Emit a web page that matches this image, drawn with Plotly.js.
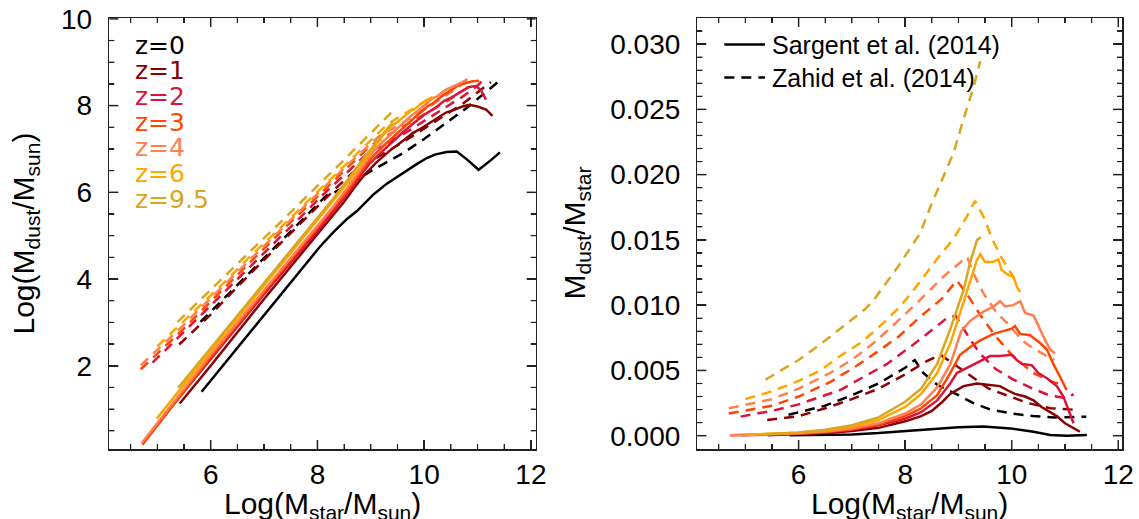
<!DOCTYPE html>
<html><head><meta charset="utf-8">
<script src="https://cdn.plot.ly/plotly-3.0.1.min.js"></script>
<style>html,body{margin:0;padding:0;background:#fff}
#wrap{position:relative;width:1139px;height:519px;overflow:hidden}
#left{position:absolute;left:0;top:0;width:555px;height:519px}
#right{position:absolute;left:555px;top:0;width:584px;height:519px}
.box{position:absolute;box-sizing:border-box;border:1.5px solid #222;pointer-events:none;top:16.5px;height:434px}
#boxL{left:107.8px;width:429.4px}
#boxR{left:695.9px;width:427.6px}</style>
</head><body><div id="wrap"><div id="left"></div><div id="right"></div><div id="boxL" class="box"></div><div id="boxR" class="box"></div></div>
<script>
// ---------- categories ----------
const redshifts = ['z=0', 'z=1', 'z=2', 'z=3', 'z=4', 'z=6', 'z=9.5'];
const zColors = ['#000000', '#8B0000', '#DC143C', '#FF4500', '#FF7F50', '#FFA500', '#DAA520'];
const modelNames = ['Sargent et al. (2014)', 'Zahid et al. (2014)'];
const axisTitles = ['Log(M<sub>star</sub>/M<sub>sun</sub>)', 'Log(M<sub>dust</sub>/M<sub>sun</sub>)', 'M<sub>dust</sub>/M<sub>star</sub>'];

// ---------- LEFT PANEL: Log(Mdust) vs Log(Mstar), Sargent (solid) ----------
const sargL_x_z0 = [5.83, 7.55, 8.05, 8.3, 8.55, 8.75, 9.05, 9.3, 9.61, 9.86, 10.05, 10.2, 10.42, 10.61, 10.8, 11.02, 11.24, 11.42];
const sargL_y_z0 = [1.40, 3.98, 4.75, 5.08, 5.38, 5.58, 5.95, 6.20, 6.46, 6.65, 6.79, 6.87, 6.93, 6.94, 6.76, 6.52, 6.73, 6.92];
const sargL_x_z1 = [5.42, 6.0, 7.0, 8.0, 8.3, 8.5, 8.7, 8.845, 9.095, 9.345, 9.53, 9.78, 9.91, 10.06, 10.25, 10.41, 10.56, 10.72, 10.845, 11.0, 11.16, 11.28];
const sargL_y_z1 = [1.13, 2.00, 3.54, 5.04, 5.48, 5.78, 6.12, 6.35, 6.68, 6.95, 7.12, 7.36, 7.45, 7.57, 7.73, 7.84, 7.90, 7.98, 8.02, 7.98, 7.91, 7.76];
const sargL_x_z2 = [4.93, 6.0, 7.0, 8.0, 8.3, 8.6, 8.845, 8.97, 9.16, 9.41, 9.595, 9.78, 10.0, 10.095, 10.19, 10.375, 10.5, 10.66, 10.845, 10.97, 11.06, 11.16];
const sargL_y_z2 = [0.55, 2.15, 3.65, 5.11, 5.56, 6.03, 6.45, 6.65, 6.88, 7.17, 7.38, 7.57, 7.79, 7.86, 7.93, 8.11, 8.18, 8.30, 8.43, 8.45, 8.36, 8.14];
const sargL_x_z3 = [4.72, 6.0, 7.0, 8.0, 8.3, 8.6, 8.845, 9.03, 9.22, 9.41, 9.66, 9.845, 10.0, 10.06, 10.16, 10.345, 10.53, 10.66, 10.78, 10.91, 11.03];
const sargL_y_z3 = [0.18, 2.20, 3.70, 5.18, 5.62, 6.09, 6.53, 6.82, 7.05, 7.27, 7.55, 7.75, 7.91, 7.98, 8.05, 8.23, 8.38, 8.48, 8.52, 8.56, 8.57];
const sargL_x_z4 = [4.71, 6.0, 7.0, 8.0, 8.3, 8.6, 8.85, 8.95, 9.05, 9.22, 9.47, 9.66, 9.78, 9.875, 10.03, 10.16, 10.25, 10.41, 10.5, 10.63, 10.72, 10.81];
const sargL_y_z4 = [0.22, 2.26, 3.74, 5.23, 5.68, 6.17, 6.59, 6.78, 6.95, 7.16, 7.45, 7.66, 7.79, 7.87, 8.03, 8.17, 8.22, 8.37, 8.42, 8.49, 8.54, 8.61];
const sargL_x_z6 = [4.99, 6.0, 7.0, 8.0, 8.3, 8.6, 8.85, 9.03, 9.22, 9.35, 9.41, 9.5, 9.63, 9.75, 9.81, 9.94, 10.03, 10.1, 10.16];
const sargL_y_z6 = [0.78, 2.34, 3.85, 5.34, 5.81, 6.28, 6.70, 7.00, 7.30, 7.48, 7.55, 7.62, 7.75, 7.88, 7.91, 8.03, 8.12, 8.16, 8.20];
const sargL_x_z95 = [5.39, 6.5, 7.5, 8.3, 8.6, 8.85, 9.1, 9.22, 9.35, 9.42];
const sargL_y_z95 = [1.49, 3.15, 4.65, 5.86, 6.34, 6.76, 7.15, 7.34, 7.53, 7.60];

// ---------- Zahid (dashed): shared Log(Mstar) grid for both panels ----------
const zahX_z0 = [5.81, 6.5, 7.0, 7.5, 8.0, 8.18, 8.34, 8.6, 9.0, 9.28, 9.6, 10.0, 10.4, 10.8, 11.4];
const zahX_z1 = [5.41, 6.0, 6.5, 7.0, 7.5, 8.0, 8.4, 8.66, 8.98, 9.3, 9.57, 9.97, 10.3, 10.73, 11.1, 11.25];
const zahX_z2 = [4.91, 5.5, 6.0, 6.78, 7.22, 7.66, 8.16, 8.53, 8.78, 8.95, 9.2, 9.4, 9.7, 10.03, 10.4, 10.7, 10.97, 11.1, 11.16];
const zahX_z3 = [4.69, 5.5, 6.0, 6.59, 7.03, 7.47, 7.88, 8.28, 8.69, 8.97, 9.2, 9.4, 9.7, 10.0, 10.4, 10.78, 10.9];
const zahX_z4 = [4.69, 5.5, 6.0, 6.59, 7.03, 7.44, 7.84, 8.28, 8.72, 9.16, 9.31, 9.47, 9.72, 9.97, 10.19, 10.44, 10.66, 10.8];
const zahX_z6 = [5.0, 5.5, 6.0, 6.41, 6.78, 7.16, 7.53, 7.91, 8.28, 8.59, 8.91, 9.16, 9.31, 9.48, 9.63, 9.8, 9.98, 10.1];
const zahX_z95 = [5.38, 6.0, 6.44, 6.91, 7.25, 7.41, 7.84, 8.28, 8.5, 8.66, 8.91, 9.10, 9.29, 9.41];

// left panel Log(Mdust), Zahid
const zahL_y_z0 = [3.01, 3.86, 4.49, 5.10, 5.72, 5.94, 6.01, 6.19, 6.49, 6.68, 6.90, 7.23, 7.58, 7.95, 8.56];
const zahL_y_z1 = [2.49, 3.18, 3.82, 4.45, 5.06, 5.67, 6.16, 6.45, 6.70, 6.94, 7.13, 7.45, 7.70, 8.05, 8.40, 8.54];
const zahL_y_z2 = [2.07, 2.78, 3.38, 4.32, 4.87, 5.40, 6.01, 6.44, 6.73, 6.91, 7.08, 7.20, 7.41, 7.66, 7.96, 8.19, 8.43, 8.58, 8.67];
const zahL_y_z3 = [1.92, 2.86, 3.48, 4.20, 4.75, 5.28, 5.76, 6.24, 6.71, 7.05, 7.23, 7.37, 7.58, 7.79, 8.08, 8.39, 8.50];
const zahL_y_z4 = [2.01, 2.95, 3.56, 4.27, 4.80, 5.30, 5.78, 6.30, 6.81, 7.30, 7.40, 7.51, 7.69, 7.89, 8.05, 8.26, 8.45, 8.56];
const zahL_y_z6 = [2.45, 3.03, 3.62, 4.11, 4.57, 5.01, 5.45, 5.91, 6.35, 6.72, 7.09, 7.39, 7.57, 7.70, 7.81, 7.94, 8.08, 8.16];
const zahL_y_z95 = [3.01, 3.76, 4.29, 4.84, 5.24, 5.43, 5.95, 6.47, 6.75, 6.95, 7.25, 7.49, 7.72, 7.87];

// right panel Mdust/Mstar, Zahid
const zahR_r_z0 = [0.0016, 0.0023, 0.0031, 0.0040, 0.0052, 0.0058, 0.0048, 0.0039, 0.0031, 0.0025, 0.0020, 0.0017, 0.0015, 0.0014, 0.00145];
const zahR_r_z1 = [0.0012, 0.0015, 0.0021, 0.0028, 0.0036, 0.0047, 0.0057, 0.0062, 0.0053, 0.0044, 0.0036, 0.0030, 0.0025, 0.0021, 0.0020, 0.00197];
const zahR_r_z2 = [0.00146, 0.0019, 0.0024, 0.0035, 0.0045, 0.0055, 0.0070, 0.0082, 0.0090, 0.0092, 0.0075, 0.0063, 0.0051, 0.0043, 0.0036, 0.0031, 0.0029, 0.0030, 0.0032];
const zahR_r_z3 = [0.0017, 0.0023, 0.0030, 0.0041, 0.0052, 0.0064, 0.0076, 0.0091, 0.0105, 0.0119, 0.0106, 0.0093, 0.0076, 0.0062, 0.0048, 0.0041, 0.0040];
const zahR_r_z4 = [0.0021, 0.0028, 0.0036, 0.0048, 0.0059, 0.0072, 0.0087, 0.0104, 0.0122, 0.0137, 0.0122, 0.0109, 0.0094, 0.0084, 0.0073, 0.0066, 0.0061, 0.0058];
const zahR_r_z6 = [0.0028, 0.0034, 0.0042, 0.0050, 0.0061, 0.0071, 0.0084, 0.0099, 0.0118, 0.0135, 0.0151, 0.0168, 0.0180, 0.0167, 0.0151, 0.0137, 0.0125, 0.0116];
const zahR_r_z95 = [0.0043, 0.0058, 0.0071, 0.0086, 0.0097, 0.0104, 0.0128, 0.0155, 0.0178, 0.0193, 0.0217, 0.0243, 0.0268, 0.0287];

// ---------- RIGHT PANEL: Mdust/Mstar, Sargent (solid) ----------
const sargR_x_z0 = [5.83, 6.5, 7.0, 7.5, 8.0, 8.5, 9.0, 9.47, 9.97, 10.41, 10.72, 11.03, 11.41];
const sargR_r_z0 = [0.00003, 0.00006, 0.0001, 0.0002, 0.00035, 0.0005, 0.00065, 0.0007, 0.00056, 0.0003, 0.00005, 0.0, 0.00005];
const sargR_x_z1 = [5.42, 6.0, 6.5, 7.0, 7.5, 8.0, 8.3, 8.5, 8.7, 8.845, 9.095, 9.345, 9.53, 9.78, 9.91, 10.06, 10.25, 10.41, 10.56, 10.72, 10.845, 11.0, 11.16, 11.28];
const sargR_r_z1 = [0.00004, 0.0001, 0.0002, 0.00035, 0.0006, 0.0011, 0.0015, 0.0019, 0.0026, 0.0032, 0.0038, 0.0040, 0.0039, 0.0038, 0.0035, 0.0032, 0.0030, 0.0027, 0.0022, 0.0018, 0.0015, 0.00095, 0.00056, 0.0003];
const sargR_x_z2 = [4.93, 5.5, 6.0, 6.5, 7.0, 7.5, 8.0, 8.3, 8.6, 8.845, 8.97, 9.16, 9.41, 9.595, 9.78, 10.0, 10.095, 10.19, 10.375, 10.5, 10.66, 10.845, 10.97, 11.06, 11.16];
const sargR_r_z2 = [0.00004, 0.00008, 0.00014, 0.00025, 0.00045, 0.0008, 0.0013, 0.0018, 0.0027, 0.0040, 0.0048, 0.0052, 0.0057, 0.0061, 0.0061, 0.0062, 0.0058, 0.0055, 0.0054, 0.0048, 0.0044, 0.0038, 0.0030, 0.0020, 0.00095];
const sargR_x_z3 = [4.72, 5.5, 6.0, 6.5, 7.0, 7.5, 8.0, 8.3, 8.6, 8.845, 9.03, 9.22, 9.41, 9.66, 9.845, 10.0, 10.06, 10.16, 10.345, 10.53, 10.66, 10.78, 10.91, 11.03];
const sargR_r_z3 = [0.00003, 0.00009, 0.00016, 0.00028, 0.0005, 0.00085, 0.0015, 0.0021, 0.0031, 0.0048, 0.0062, 0.0068, 0.0073, 0.0078, 0.0080, 0.0082, 0.0084, 0.0078, 0.0077, 0.0071, 0.0066, 0.0055, 0.0045, 0.0035];
const sargR_x_z4 = [4.71, 5.5, 6.0, 6.5, 7.0, 7.5, 8.0, 8.3, 8.6, 8.85, 8.95, 9.05, 9.22, 9.47, 9.66, 9.78, 9.875, 10.03, 10.16, 10.25, 10.41, 10.5, 10.63, 10.72, 10.81];
const sargR_r_z4 = [0.00003, 0.0001, 0.00018, 0.00032, 0.00055, 0.00095, 0.0017, 0.0024, 0.0037, 0.0055, 0.0068, 0.0080, 0.0088, 0.0095, 0.0099, 0.0103, 0.0099, 0.0100, 0.0103, 0.0094, 0.0092, 0.0084, 0.0073, 0.0066, 0.0063];
const sargR_x_z6 = [5.0, 5.5, 6.0, 6.5, 7.0, 7.5, 8.0, 8.3, 8.6, 8.85, 9.03, 9.22, 9.35, 9.41, 9.5, 9.63, 9.75, 9.81, 9.94, 10.03, 10.1, 10.16];
const sargR_r_z6 = [0.00008, 0.00014, 0.00022, 0.0004, 0.0007, 0.0012, 0.0022, 0.0032, 0.0048, 0.0071, 0.0094, 0.0119, 0.0135, 0.0139, 0.0133, 0.0133, 0.0135, 0.0127, 0.0123, 0.0122, 0.0114, 0.0110];
const sargR_x_z95 = [5.38, 6.0, 6.5, 7.0, 7.5, 8.0, 8.3, 8.6, 8.85, 9.1, 9.22, 9.35, 9.42];
const sargR_r_z95 = [0.00012, 0.00025, 0.00045, 0.0008, 0.0014, 0.0026, 0.0036, 0.0055, 0.0082, 0.0112, 0.0133, 0.0150, 0.0152];

// ---------- grouping (order = redshifts) ----------
const sargLX = [sargL_x_z0, sargL_x_z1, sargL_x_z2, sargL_x_z3, sargL_x_z4, sargL_x_z6, sargL_x_z95];
const sargLY = [sargL_y_z0, sargL_y_z1, sargL_y_z2, sargL_y_z3, sargL_y_z4, sargL_y_z6, sargL_y_z95];
const sargRX = [sargR_x_z0, sargR_x_z1, sargR_x_z2, sargR_x_z3, sargR_x_z4, sargR_x_z6, sargR_x_z95];
const sargRY = [sargR_r_z0, sargR_r_z1, sargR_r_z2, sargR_r_z3, sargR_r_z4, sargR_r_z6, sargR_r_z95];
const zahX = [zahX_z0, zahX_z1, zahX_z2, zahX_z3, zahX_z4, zahX_z6, zahX_z95];
const zahLY = [zahL_y_z0, zahL_y_z1, zahL_y_z2, zahL_y_z3, zahL_y_z4, zahL_y_z6, zahL_y_z95];
const zahRY = [zahR_r_z0, zahR_r_z1, zahR_r_z2, zahR_r_z3, zahR_r_z4, zahR_r_z6, zahR_r_z95];

const DASH = '10px,7px';
const FONT = 'Liberation Sans, Arial, Helvetica, sans-serif';
const H = 519;
const Y_DOMAIN = [70 / H, 501 / H];
const FRAME = '#222';

function mk(x, y, color, dashed, name) {
  return {
    type: 'scatter', mode: 'lines', x: x, y: y, name: name,
    line: { color: color, width: 2.5, dash: dashed ? DASH : 'solid' },
    showlegend: false, hoverinfo: 'skip'
  };
}
function axis(extra, minorStep) {
  return Object.assign({
    showgrid: false, zeroline: false, showline: true, linecolor: FRAME, linewidth: 1.5,
    mirror: 'ticks', ticks: 'inside', ticklen: 9, tickwidth: 1.5, tickcolor: FRAME,
    tickfont: { family: FONT, size: 28, color: '#000' },
    minor: { ticks: 'inside', ticklen: 5, tickwidth: 1.2, tickcolor: FRAME, showgrid: false, dtick: minorStep, tick0: 0 }
  }, extra);
}
// tick marks as layout decoration (axis furniture)
function furniture(xDom, xTicks, yTicks) {
  const s = [];
  const ln = (o) => s.push(Object.assign({ type: 'line', layer: 'above' }, o));
  xTicks.forEach(t => {
    const len = t.major ? 9 : 5, w = t.major ? 1.5 : 1.2;
    ln({ xref: 'x', yref: 'paper', x0: t.v, x1: t.v, ysizemode: 'pixel', yanchor: Y_DOMAIN[0], y0: 0, y1: len, line: { color: FRAME, width: w } });
    ln({ xref: 'x', yref: 'paper', x0: t.v, x1: t.v, ysizemode: 'pixel', yanchor: Y_DOMAIN[1], y0: 0, y1: -len, line: { color: FRAME, width: w } });
  });
  yTicks.forEach(t => {
    const len = t.major ? 9 : 5, w = t.major ? 1.5 : 1.2;
    ln({ yref: 'y', xref: 'paper', y0: t.v, y1: t.v, xsizemode: 'pixel', xanchor: xDom[0], x0: 0, x1: len, line: { color: FRAME, width: w } });
    ln({ yref: 'y', xref: 'paper', y0: t.v, y1: t.v, xsizemode: 'pixel', xanchor: xDom[1], x0: 0, x1: -len, line: { color: FRAME, width: w } });
  });
  return s;
}
function tickList(kFrom, kTo, step, majorEvery) {
  const out = [];
  for (let k = kFrom; k <= kTo; k++) out.push({ v: +(k * step).toFixed(6), major: k % majorEvery === 0 });
  return out;
}
const massTicks = tickList(9, 24, 0.5, 4);        // 4.5 ... 12, majors at 6, 8, 10, 12
const logDustTicks = tickList(1, 20, 0.5, 4);     // 0.5 ... 10, majors at 2 ... 10
const ratioTicks = tickList(0, 31, 0.001, 5);     // 0.000 ... 0.031, majors every 0.005

function titleAnn(text, x, y, angle, anchorY) {
  return { xref: 'paper', yref: 'paper', x: x, y: y, text: text, showarrow: false, textangle: angle,
           xanchor: 'center', yanchor: anchorY, font: { family: FONT, size: 30, color: '#000' } };
}

// ---------- left graph (div 0..555 px) ----------
const WL = 555;
const xDomL = [109.3 / WL, 535.7 / WL];
const tracesL = [];
for (let i = 0; i < redshifts.length; i++) tracesL.push(mk(zahX[i], zahLY[i], zColors[i], true, modelNames[1] + ' ' + redshifts[i]));
for (let i = 0; i < redshifts.length; i++) tracesL.push(mk(sargLX[i], sargLY[i], zColors[i], false, modelNames[0] + ' ' + redshifts[i]));
const legendYs = [45, 70.7, 96, 122, 147.5, 173.3, 199];
const layoutL = {
  width: WL, height: H, margin: { l: 0, r: 0, t: 0, b: 0 },
  paper_bgcolor: '#fff', plot_bgcolor: '#fff', showlegend: false,
  font: { family: FONT, color: '#000' },
  xaxis: axis({ domain: xDomL, range: [4.1, 12.09], tick0: 0, dtick: 2 }, 0.5),
  yaxis: axis({ domain: Y_DOMAIN.slice(), range: [0.08, 10.02], tick0: 0, dtick: 2, ticklabelstandoff: 10 }, 0.5),
  annotations: redshifts.map((t, i) => ({
    xref: 'paper', yref: 'paper', x: 132.9 / WL, y: (H - legendYs[i]) / H,
    xanchor: 'left', yanchor: 'middle', showarrow: false, text: t,
    font: { family: 'DejaVu Sans, sans-serif', size: 25, color: zColors[i] }
  })).concat([
    titleAnn(axisTitles[0], 322.5 / WL, (H - 485) / H, 0, 'top'),
    titleAnn(axisTitles[1], 25 / WL, (H - 233.5) / H, -90, 'middle')
  ]),
  shapes: furniture(xDomL, massTicks, logDustTicks)
};

// ---------- right graph (div 555..1139 px) ----------
const WR = 584, OFF = 555;
const xDomR = [(697.4 - OFF) / WR, (1122 - OFF) / WR];
const tracesR = [];
for (let i = 0; i < redshifts.length; i++) tracesR.push(mk(zahX[i], zahRY[i], zColors[i], true, modelNames[1] + ' ' + redshifts[i]));
for (let i = 0; i < redshifts.length; i++) tracesR.push(mk(sargRX[i], sargRY[i], zColors[i], false, modelNames[0] + ' ' + redshifts[i]));
const modelLegendYs = [44.5, 77.5];
const layoutR = {
  width: WR, height: H, margin: { l: 0, r: 0, t: 0, b: 0 },
  paper_bgcolor: '#fff', plot_bgcolor: '#fff', showlegend: false,
  font: { family: FONT, color: '#000' },
  xaxis: axis({ domain: xDomR, range: [4.1, 12.07], tick0: 0, dtick: 2 }, 0.5),
  yaxis: axis({ domain: Y_DOMAIN.slice(), range: [-0.00102, 0.0320], tick0: 0, dtick: 0.005, tickformat: '.3f', ticklabelstandoff: 10 }, 0.001),
  annotations: modelNames.map((t, i) => ({
    xref: 'paper', yref: 'paper', x: (769.7 - OFF) / WR, y: (H - modelLegendYs[i]) / H,
    xanchor: 'left', yanchor: 'middle', showarrow: false, text: t,
    font: { family: FONT, size: 25, color: '#000' }
  })).concat([
    titleAnn(axisTitles[0], (909.7 - OFF) / WR, (H - 485) / H, 0, 'top'),
    titleAnn(axisTitles[2], (576 - OFF) / WR, (H - 233.5) / H, -90, 'middle')
  ]),
  shapes: furniture(xDomR, massTicks, ratioTicks).concat(modelNames.map((t, i) => ({
    type: 'line', xref: 'paper', yref: 'paper',
    x0: (724.3 - OFF) / WR, x1: (765 - OFF) / WR, y0: (H - modelLegendYs[i]) / H, y1: (H - modelLegendYs[i]) / H,
    line: { color: '#000', width: 2.5, dash: i === 0 ? 'solid' : DASH }
  })))
};

Plotly.newPlot('left', tracesL, layoutL, { staticPlot: true, displayModeBar: false });
Plotly.newPlot('right', tracesR, layoutR, { staticPlot: true, displayModeBar: false });
</script>
</body></html>
